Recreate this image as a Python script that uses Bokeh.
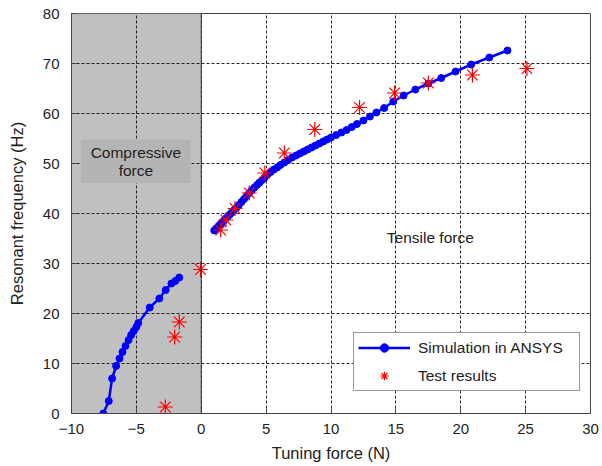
from bokeh.plotting import figure
from bokeh.models import Legend, LegendItem, FixedTicker, Span
from bokeh.core.properties import value
from bokeh.embed import file_html
from bokeh.resources import INLINE

# Simulation in ANSYS, compressive branch
sim_neg_x = [-7.55, -7.13, -6.87, -6.56, -6.30, -6.07, -5.84, -5.60, -5.40, -5.20, -5.00, -4.85,
             -3.97, -3.23, -2.74, -2.30, -2.00, -1.70]
sim_neg_y = [0.0, 2.5, 7.0, 9.5, 11.0, 12.3, 13.5, 14.7, 15.7, 16.5, 17.3, 18.1,
             21.2, 23.0, 24.7, 26.0, 26.5, 27.2]

# Simulation in ANSYS, tensile branch
sim_pos_x = [1.0, 1.15, 1.3, 1.45, 1.6, 1.75, 1.9, 2.05, 2.2, 2.35, 2.5, 2.7, 2.9, 3.1, 3.3,
             3.5, 3.7, 3.9, 4.1, 4.3, 4.5, 4.7, 4.9, 5.1, 5.35, 5.6, 5.85, 6.1, 6.4, 6.7,
             7.0, 7.3, 7.6, 7.9, 8.2, 8.5, 8.8, 9.1, 9.4, 9.7, 10.0, 10.4, 10.8, 11.2, 11.6,
             12.0, 12.5, 13.0, 13.5, 14.1, 14.8, 15.6, 16.5, 17.5, 18.5, 19.6, 20.8, 22.2, 23.6]
sim_pos_y = [36.6, 37.0, 37.4, 37.8, 38.2, 38.6, 39.0, 39.4, 39.8, 40.2, 40.6, 41.1, 41.7, 42.3,
             42.9, 43.5, 44.1, 44.7, 45.2, 45.7, 46.2, 46.7, 47.2, 47.8, 48.3, 48.8, 49.2,
             49.7, 50.2, 50.7, 51.2, 51.6, 52.0, 52.4, 52.8, 53.2, 53.6, 54.0, 54.4, 54.8,
             55.2, 55.7, 56.2, 56.7, 57.3, 57.9, 58.6, 59.4, 60.2, 61.1, 62.4, 63.6, 64.8,
             66.0, 67.1, 68.4, 69.8, 71.2, 72.6]

# Test results
test_x = [-2.77, -2.05, -1.69, -0.05, 1.5, 1.9, 2.6, 3.7, 4.9, 6.4, 8.75, 12.2, 14.9, 17.5, 20.9, 25.1]
test_y = [1.3, 15.3, 18.3, 28.8, 36.7, 38.7, 41.0, 44.1, 48.1, 52.1, 56.8, 61.2, 64.1, 66.1, 67.7, 69.0]

x_ticks = [-10, -5, 0, 5, 10, 15, 20, 25, 30]
y_ticks = [0, 10, 20, 30, 40, 50, 60, 70, 80]
compress_left, compress_right = -10, 0

FONT_NAME = "Liberation Sans"
FONT = value(FONT_NAME)

p = figure(width=602, height=466, x_range=(-10, 30), y_range=(0, 80),
           output_backend="svg", toolbar_location=None,
           min_border_left=71, min_border_top=13, min_border_right=12, min_border_bottom=53)

p.background_fill_color = "white"
p.border_fill_color = "white"
p.outline_line_color = "#444444"
p.outline_line_width = 1

# shaded compressive region (under grid)
p.quad(left=[compress_left], right=[compress_right], bottom=[0], top=[80],
       fill_color="#c0c0c0", line_color=None, level="image")

p.xaxis.ticker = FixedTicker(ticks=x_ticks)
p.yaxis.ticker = FixedTicker(ticks=y_ticks)
for g in (p.xgrid, p.ygrid):
    g.grid_line_color = "#111111"
    g.grid_line_dash = "3 2"
    g.grid_line_alpha = 0.9
    g.grid_line_width = 1

p.add_layout(Span(location=0, dimension="height", line_color="#333333", line_width=1))

for ax in (p.xaxis, p.yaxis):
    ax.axis_line_color = "#444444"
    ax.major_tick_in = 5
    ax.major_tick_out = 0
    ax.minor_tick_line_color = None
    ax.major_tick_line_color = "#444444"
    ax.major_label_text_font = FONT_NAME
    ax.major_label_text_font_size = "15px"
    ax.major_label_text_color = "#222222"
    ax.axis_label_text_font = FONT_NAME
    ax.axis_label_text_font_size = "16.5px"
    ax.axis_label_text_font_style = "normal"
    ax.axis_label_text_color = "#222222"
p.xaxis.axis_label = "Tuning force (N)"
p.yaxis.axis_label = "Resonant frequency (Hz)"
p.xaxis.major_label_standoff = 10
p.yaxis.major_label_standoff = 12
p.xaxis.axis_label_standoff = 7
p.yaxis.axis_label_standoff = 14

# label box for compressive force
p.quad(left=[-9.28], right=[-0.82], bottom=[46.1], top=[54.8], fill_color="#b4b4b4", line_color=None)
p.text(x=[-5.04, -5.04], y=[52.3, 48.7], text=["Compressive", "force"], text_align="center",
       text_baseline="middle", text_font=FONT, text_font_size="15.5px", text_color="#222222")
p.text(x=[14.3], y=[35.3], text=["Tensile force"], text_align="left", text_baseline="middle",
       text_font=FONT, text_font_size="15.5px", text_color="#222222")

# simulation
l1 = p.line(sim_neg_x, sim_neg_y, line_color="#0000ff", line_width=2.5)
c1 = p.scatter(sim_neg_x, sim_neg_y, marker="circle", size=7, fill_color="#0000ff", line_color="#0000ff")
l2 = p.line(sim_pos_x, sim_pos_y, line_color="#0000ff", line_width=2.5)
c2 = p.scatter(sim_pos_x, sim_pos_y, marker="circle", size=7, fill_color="#0000ff", line_color="#0000ff")

# tests
t = p.scatter(test_x, test_y, marker="asterisk", size=15, line_color="#ff0000", line_width=1.2)
p.scatter(test_x, test_y, marker="circle", size=3, fill_color="#ff0000", line_color=None)

legend = Legend(items=[LegendItem(label="Simulation in ANSYS", renderers=[l1, c1]),
                       LegendItem(label="Test results", renderers=[t])],
                location=(282, 22))
legend.border_line_color = "#333333"
legend.border_line_width = 1
legend.background_fill_alpha = 1
legend.label_text_font = FONT_NAME
legend.label_text_font_size = "15.5px"
legend.label_text_color = "#222222"
legend.glyph_width = 52
legend.glyph_height = 21
legend.label_height = 21
legend.label_width = 157
legend.label_standoff = 8
legend.spacing = 7
legend.padding = 4
legend.margin = 0
p.add_layout(legend, "center")

open("out.html", "w").write(file_html(p, INLINE))
